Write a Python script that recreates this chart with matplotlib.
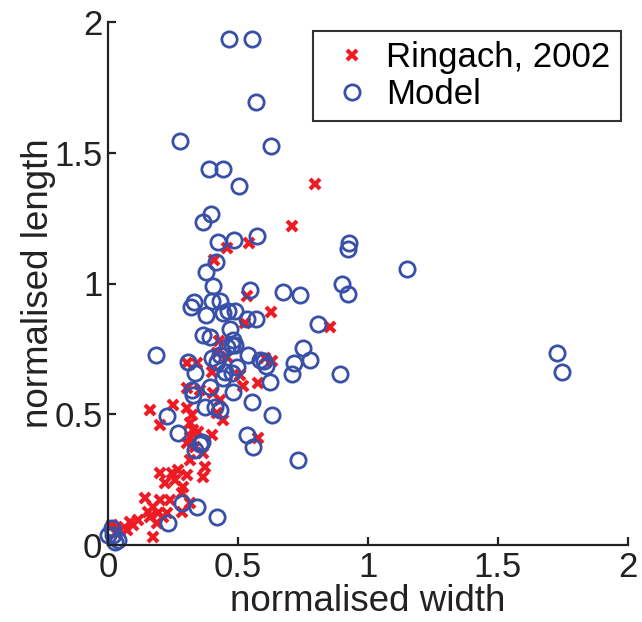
import matplotlib
matplotlib.use("Agg")
import matplotlib.pyplot as plt

# Ringach, 2002 (red crosses)
ringach_w = [0.796, 0.708, 0.458, 0.542, 0.408, 0.535, 0.627, 0.527, 0.854, 0.427,
             0.419, 0.458, 0.604, 0.631, 0.342, 0.304, 0.400, 0.508, 0.577, 0.519,
             0.304, 0.354, 0.404, 0.431, 0.162, 0.250, 0.304, 0.323, 0.200, 0.315,
             0.442, 0.419, 0.327, 0.346, 0.400, 0.315, 0.304, 0.577, 0.335, 0.365,
             0.315, 0.373, 0.365, 0.200, 0.246, 0.304, 0.219, 0.288, 0.285, 0.315,
             0.142, 0.200, 0.238, 0.173, 0.227, 0.192, 0.285, 0.154, 0.162, 0.212,
             0.188, 0.085, 0.096, 0.073, 0.046, 0.035, 0.173, 0.015, 0.031, 0.115,
             0.258, 0.269]
ringach_l = [1.381, 1.220, 1.136, 1.155, 1.090, 0.952, 0.891, 0.849, 0.834, 0.780,
             0.734, 0.719, 0.715, 0.704, 0.696, 0.696, 0.662, 0.650, 0.620, 0.608,
             0.600, 0.593, 0.581, 0.554, 0.516, 0.535, 0.524, 0.497, 0.459, 0.467,
             0.478, 0.505, 0.440, 0.432, 0.421, 0.413, 0.390, 0.409, 0.375, 0.352,
             0.325, 0.298, 0.260, 0.275, 0.275, 0.268, 0.237, 0.222, 0.199, 0.161,
             0.180, 0.172, 0.172, 0.145, 0.122, 0.122, 0.126, 0.126, 0.107, 0.107,
             0.084, 0.088, 0.076, 0.057, 0.057, 0.069, 0.031, 0.076, 0.046, 0.096,
             0.249, 0.287]

# Model (blue circles)
model_w = [0.465, 0.554, 0.569, 0.277, 0.627, 0.388, 0.442, 0.504, 0.396, 0.365,
           0.573, 0.423, 0.485, 0.927, 0.923, 0.415, 1.150, 0.377, 0.404, 0.546,
           0.673, 0.738, 0.900, 0.923, 0.331, 0.319, 0.400, 0.431, 0.377, 0.442,
           0.462, 0.488, 0.569, 0.535, 0.808, 0.365, 0.392, 0.469, 0.481, 0.750,
           0.715, 0.777, 0.708, 0.892, 1.727, 1.746, 0.600, 0.623, 0.631, 0.731,
           0.185, 0.308, 0.335, 0.400, 0.431, 0.419, 0.458, 0.488, 0.538, 0.585,
           0.450, 0.477, 0.496, 0.442, 0.392, 0.481, 0.327, 0.554, 0.373, 0.412,
           0.431, 0.227, 0.269, 0.362, 0.535, 0.558, 0.285, 0.342, 0.419, 0.231,
           0.335, 0.354, 0.015, 0.019, 0.027, 0.000, 0.038, 0.323, 0.477, 0.608]
model_l = [1.935, 1.935, 1.694, 1.545, 1.526, 1.438, 1.438, 1.373, 1.266, 1.235,
           1.182, 1.159, 1.166, 1.155, 1.132, 1.082, 1.055, 1.044, 0.990, 0.975,
           0.967, 0.956, 0.998, 0.960, 0.929, 0.910, 0.933, 0.933, 0.880, 0.887,
           0.895, 0.895, 0.864, 0.864, 0.845, 0.803, 0.795, 0.826, 0.784, 0.753,
           0.696, 0.707, 0.654, 0.654, 0.734, 0.662, 0.704, 0.623, 0.497, 0.325,
           0.727, 0.700, 0.658, 0.715, 0.727, 0.700, 0.757, 0.765, 0.727, 0.707,
           0.662, 0.658, 0.681, 0.639, 0.604, 0.585, 0.574, 0.547, 0.528, 0.528,
           0.516, 0.493, 0.428, 0.394, 0.421, 0.375, 0.161, 0.145, 0.107, 0.084,
           0.363, 0.386, 0.065, 0.038, 0.011, 0.038, 0.019, 0.593, 0.765, 0.685]

x_ticks = [0, 0.5, 1, 1.5, 2]
y_ticks = [0, 0.5, 1, 1.5, 2]
x_tick_labels = ["0", "0.5", "1", "1.5", "2"]
y_tick_labels = ["0", "0.5", "1", "1.5", "2"]

plt.rcParams['font.family'] = ['Liberation Sans', 'DejaVu Sans']

fig = plt.figure(figsize=(6.42, 6.22), dpi=100)
ax = fig.add_axes([108/642, 1-545/622, (628-108)/642, (545-22)/622])

red = '#ED1C24'
blue = '#3850A8'
ax.plot(ringach_w, ringach_l, linestyle='none', marker='x', color=red,
        markersize=7.5, markeredgewidth=3.0, label='Ringach, 2002', clip_on=False)
ax.plot(model_w, model_l, linestyle='none', marker='o', markerfacecolor='none',
        markeredgecolor=blue, markersize=11, markeredgewidth=2.0, label='Model',
        clip_on=False)

ax.set_xlim(0, 2)
ax.set_ylim(0, 2)
ax.set_xticks(x_ticks)
ax.set_xticklabels(x_tick_labels)
ax.set_yticks(y_ticks)
ax.set_yticklabels(y_tick_labels)
ax.spines['top'].set_visible(False)
ax.spines['right'].set_visible(False)
for s in ('left', 'bottom'):
    ax.spines[s].set_linewidth(1.6)
    ax.spines[s].set_color('#222222')
ax.tick_params(direction='in', length=6, width=1.6, labelsize=25,
               colors='#222222', pad=4)
ax.set_xlabel('normalised width', fontsize=26.5, labelpad=0, color='#222222')
ax.set_ylabel('normalised length', fontsize=26.5, labelpad=-1, color='#222222')

leg = ax.legend(loc='upper right', bbox_to_anchor=(621/642, 1-31/622),
                bbox_transform=fig.transFigure, fontsize=25, frameon=True,
                fancybox=False, edgecolor='black', handlelength=1.6,
                handletextpad=0.2, borderpad=0.3, labelspacing=0.1,
                borderaxespad=0)
leg.get_frame().set_linewidth(1.5)

fig.savefig('out.png', dpi=100)
